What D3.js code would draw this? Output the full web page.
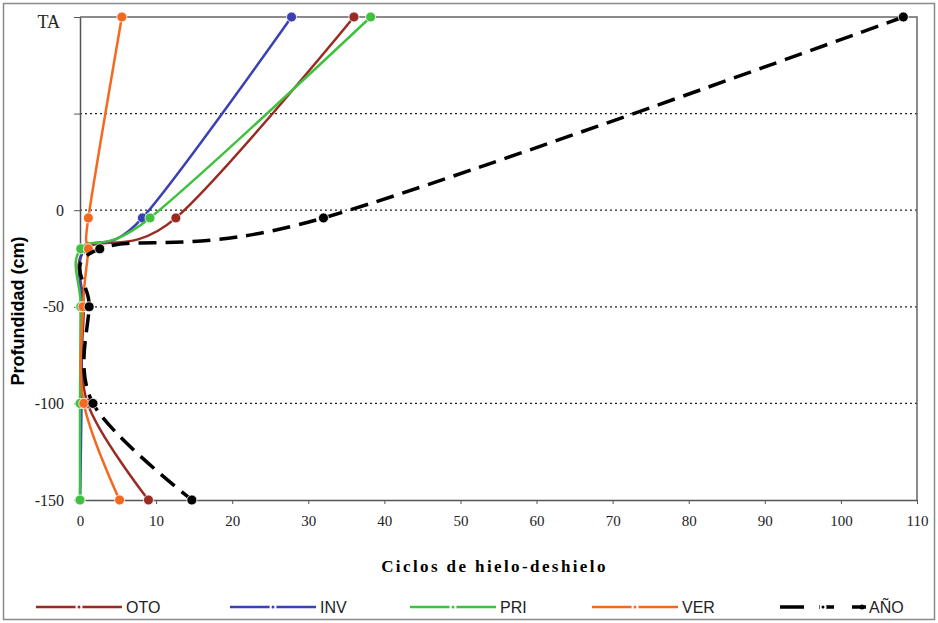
<!DOCTYPE html>
<html>
<head>
<meta charset="utf-8">
<script src="https://d3js.org/d3.v7.min.js"></script>
<style>
body { margin: 0; background: #fff; }
svg { display: block; }
</style>
</head>
<body>
<svg id="svg"></svg>
<script>
// depth levels (TA = air temperature, drawn at 100)
const depths = [100, -4, -20, -50, -100, -150];
const yTicks = [100, 50, 0, -50, -100, -150];
const yTickLabels = ["TA", "", "0", "-50", "-100", "-150"];
const xTicks = [0, 10, 20, 30, 40, 50, 60, 70, 80, 90, 100, 110];

const oto = [36.0, 12.6, 0.8, 0.5, 1.0, 9.0];
const inv = [27.8, 8.2, 0.6, 0.2, 0.2, 0.0];
const pri = [38.2, 9.2, 0.1, 0.1, 0.0, 0.0];
const ver = [5.5, 1.1, 1.1, 0.4, 0.5, 5.2];
const ano = [108.2, 32.0, 2.6, 1.2, 1.7, 14.7];

const series = [
  {name: "OTO", values: oto, color: "#9a2b22"},
  {name: "INV", values: inv, color: "#3b40b4"},
  {name: "PRI", values: pri, color: "#3fc13f"},
  {name: "VER", values: ver, color: "#f4691f"},
  {name: "AÑO", values: ano, color: "#000000", dashed: true}
];

const W = 938, H = 623;
const mLeft = 80, mRight = 917, mTop = 17, mBottom = 500;

const svg = d3.select("#svg").attr("width", W).attr("height", H);

svg.append("rect").attr("x", 3.5).attr("y", 3.5).attr("width", 931).attr("height", 616)
  .attr("fill", "none").attr("stroke", "#8a8a8a").attr("stroke-width", 1.5);

const x = d3.scaleLinear().domain([0, 110]).range([mLeft, mRight]);
const y = d3.scaleLinear().domain([-150, 100]).range([mBottom, mTop]);

// dotted gridlines
svg.append("g").selectAll("line")
  .data([50, 0, -50, -100])
  .enter().append("line")
  .attr("x1", mLeft).attr("x2", mRight)
  .attr("y1", d => y(d)).attr("y2", d => y(d))
  .attr("stroke", "#222").attr("stroke-width", 1.2)
  .attr("stroke-dasharray", "2,3");

// plot border top + right
svg.append("path")
  .attr("d", `M${mLeft},${y(100)}H${mRight}V${mBottom}`)
  .attr("fill", "none").attr("stroke", "#666").attr("stroke-width", 1.5);

// x axis
const xAxis = svg.append("g").attr("transform", `translate(0,${mBottom})`)
  .call(d3.axisBottom(x).tickValues(xTicks).tickSize(4).tickPadding(11).tickSizeOuter(0));
xAxis.select(".domain").attr("stroke", "#555").attr("stroke-width", 1.5);
xAxis.selectAll(".tick line").attr("stroke", "#555");
xAxis.selectAll("text").attr("font-family", "Liberation Serif").attr("font-size", 15).attr("fill", "#222");

// y axis
const yAxis = svg.append("g").attr("transform", `translate(${mLeft},0)`)
  .call(d3.axisLeft(y).tickValues(yTicks).tickFormat((d, i) => yTickLabels[i]).tickSize(6).tickPadding(10).tickSizeOuter(0));
yAxis.select(".domain").attr("stroke", "#555").attr("stroke-width", 1.5);
yAxis.selectAll(".tick line").attr("stroke", "#555");
yAxis.selectAll("text").attr("font-family", "Liberation Serif").attr("font-size", 16).attr("fill", "#222");
yAxis.selectAll(".tick text").filter(d => d === 100)
  .attr("font-size", 18).attr("dx", -4).attr("dy", "0.6em");

const line = d3.line()
  .x(d => x(d[0])).y(d => y(d[1]))
  .curve(d3.curveCatmullRom.alpha(0));

series.forEach(s => {
  const pts = s.values.map((v, i) => [v, depths[i]]);
  svg.append("path")
    .datum(pts)
    .attr("d", line)
    .attr("fill", "none")
    .attr("stroke", s.color)
    .attr("stroke-width", s.dashed ? 3.5 : 2.5)
    .attr("stroke-dasharray", s.dashed ? "18,9" : null);
  svg.append("g").selectAll("circle")
    .data(pts).enter().append("circle")
    .attr("cx", d => x(d[0])).attr("cy", d => y(d[1]))
    .attr("r", 5)
    .attr("fill", s.color)
    .attr("stroke", "#fff").attr("stroke-width", 0.8);
});

// axis titles
svg.append("text")
  .attr("x", (mLeft + mRight) / 2 - 4).attr("y", 572)
  .attr("text-anchor", "middle")
  .attr("font-family", "Liberation Serif").attr("font-weight", "bold")
  .attr("font-size", 17).attr("letter-spacing", 2.4)
  .text("Ciclos de hielo-deshielo");

svg.append("text")
  .attr("transform", "translate(24,311) rotate(-90)")
  .attr("text-anchor", "middle")
  .attr("font-family", "Liberation Sans").attr("font-weight", "bold")
  .attr("font-size", 18)
  .text("Profundidad (cm)");

// legend
const legX = [36, 230, 410, 592, 780];
const legend = svg.append("g").attr("transform", "translate(0,607)");
series.forEach((s, i) => {
  const g = legend.append("g").attr("transform", `translate(${legX[i]},0)`);
  g.append("line").attr("x1", 0).attr("x2", 86).attr("y1", 0).attr("y2", 0)
    .attr("stroke", s.color).attr("stroke-width", s.dashed ? 3.5 : 2.5)
    .attr("stroke-dasharray", s.dashed ? "24,15,15,18" : null);
  g.append("circle").attr("cx", 43).attr("cy", 0).attr("r", 2.5)
    .attr("fill", s.color).attr("stroke", "#fff").attr("stroke-width", 2);
  if (s.dashed) {
    g.append("circle").attr("cx", 82).attr("cy", 0).attr("r", 2.5).attr("fill", s.color);
  }
  g.append("text").attr("x", s.dashed ? 89 : 90).attr("y", 5.5)
    .attr("font-family", "Liberation Sans").attr("font-size", 16)
    .attr("fill", "#222")
    .text(s.name);
});
</script>
</body>
</html>
